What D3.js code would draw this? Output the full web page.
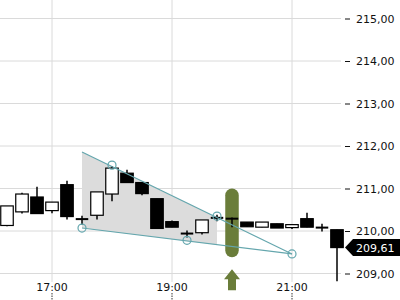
<!DOCTYPE html>
<html>
<head>
<meta charset="utf-8">
<script src="https://cdn.jsdelivr.net/npm/d3@7"></script>
<style>
  body { margin: 0; background: #fff; }
  text { font-family: "DejaVu Sans", sans-serif; }
</style>
</head>
<body>
<div id="chart"></div>
<script>
// 15 minute candles
var times = ["16:15","16:30","16:45","17:00","17:15","17:30","17:45","18:00","18:15","18:30","18:45","19:00",
             "19:15","19:30","19:45","20:00","20:15","20:30","20:45","21:00","21:15","21:30","21:45"]
var opens  = [210.13,210.45,210.80,210.48,211.09,210.28,210.37,210.87,211.36,211.14,210.76,210.22,
              209.94,209.96,210.31,210.29,210.21,210.09,210.17,210.08,210.29,210.08,210.03]
var highs  = [210.59,210.90,211.04,210.68,211.18,210.36,210.92,211.53,211.44,211.14,210.76,210.25,
              210.01,210.26,210.38,210.32,210.21,210.21,210.17,210.15,210.43,210.17,210.03]
var lows   = [210.11,210.41,210.40,210.42,210.27,210.15,210.27,210.70,211.14,210.84,210.06,210.09,
              209.85,209.92,210.23,210.09,210.10,210.09,210.07,210.05,210.09,209.99,208.82]
var closes = [210.59,210.87,210.41,210.68,210.34,210.28,210.92,211.48,211.14,210.88,210.06,210.09,
              209.94,210.26,210.31,210.29,210.10,210.21,210.07,210.15,210.09,210.08,209.61]

var yTicks = [209,210,211,212,213,214,215]
var xTicks = ["17:00","19:00","21:00"]

// triangle pattern
var upperTimes  = ["17:30","21:00"]
var upperPrices = [211.86,209.46]
var lowerTimes  = ["17:30","21:00"]
var lowerPrices = [210.07,209.46]
var shadeEnd = "19:45"
var pivotTimes  = ["17:30","18:00","19:15","19:45","21:00"]
var pivotPrices = [210.07,211.55,209.78,210.35,209.46]

// signal
var signalTime = "20:00"
var signalHigh = 211.0
var signalLow = 209.38

var lastPrice = 209.61

const W = 400, H = 300
var teal = "#64a6ad", olive = "#6a7d3a"

function t(s) {
    var p = s.split(":")
    return new Date(2020, 0, 1, +p[0], +p[1])
}

var x = d3.scaleTime()
    .domain([t("17:00"), t("19:00")])
    .range([52, 172])
var y = d3.scaleLinear()
    .domain([209, 215])
    .range([273.5, 18.5])

var svg = d3.select("#chart").append("svg")
    .attr("width", W).attr("height", H)

// grid
svg.append("g").selectAll("line")
    .data(yTicks).enter().append("line")
    .attr("x1", 0).attr("x2", 341)
    .attr("y1", d => y(d)).attr("y2", d => y(d))
    .style("stroke", "#dadada")
svg.append("g").selectAll("line")
    .data(xTicks).enter().append("line")
    .attr("x1", d => x(t(d))).attr("x2", d => x(t(d)))
    .attr("y1", 0).attr("y2", 282)
    .style("stroke", "#dadada")

// y axis
var yAxis = d3.axisRight(y)
    .tickValues(yTicks)
    .tickSize(5)
    .tickPadding(6)
    .tickFormat(d => d3.format(".2f")(d).replace(".", ","))
var ya = svg.append("g").attr("transform", "translate(345,0)").call(yAxis)
ya.select(".domain").remove()
ya.selectAll("text").style("font-size", "11px").style("fill", "#111")
ya.selectAll("line").style("stroke", "#111")

// x axis
svg.append("g").selectAll("text")
    .data(xTicks).enter().append("text")
    .attr("x", d => x(t(d))).attr("y", 291)
    .attr("text-anchor", "middle")
    .style("font-size", "11px").style("fill", "#111")
    .text(d => d)
svg.append("g").selectAll("line")
    .data(xTicks).enter().append("line")
    .attr("x1", d => x(t(d))).attr("x2", d => x(t(d)))
    .attr("y1", 293).attr("y2", 300)
    .style("stroke", "#333").style("stroke-dasharray", "1.5,1")

// shaded wedge
var upLine = d3.scaleTime().domain(upperTimes.map(t)).range(upperPrices)
var loLine = d3.scaleTime().domain(lowerTimes.map(t)).range(lowerPrices)
var t0 = t(upperTimes[0]), t1 = t(shadeEnd)
var poly = [[t0, upLine(t0)], [t1, upLine(t1)], [t1, loLine(t1)], [t0, loLine(t0)]]
svg.append("path")
    .attr("d", "M" + poly.map(p => x(p[0]) + "," + y(p[1])).join("L") + "Z")
    .style("fill", "#dcdcdc")

// signal pill
var pw = 13.5
svg.append("rect")
    .attr("x", x(t(signalTime)) - pw / 2)
    .attr("y", y(signalHigh))
    .attr("width", pw)
    .attr("height", y(signalLow) - y(signalHigh))
    .attr("rx", pw / 2).attr("ry", pw / 2)
    .style("fill", olive)

// arrow below
var ax = x(t(signalTime)), ay = y(signalLow) + 12
svg.append("path")
    .attr("d", "M" + ax + "," + ay + "L" + (ax + 8) + "," + (ay + 10) + "L" + (ax + 4) + "," + (ay + 10) +
               "L" + (ax + 4) + "," + (ay + 21) + "L" + (ax - 4) + "," + (ay + 21) + "L" + (ax - 4) + "," + (ay + 10) +
               "L" + (ax - 8) + "," + (ay + 10) + "Z")
    .style("fill", olive)

// candles
var bw = 12.5
var candles = times.map((d, i) => ({ t: t(d), o: opens[i], h: highs[i], l: lows[i], c: closes[i] }))
var cg = svg.append("g")
cg.selectAll("line.wick")
    .data(candles).enter().append("line")
    .attr("x1", d => x(d.t)).attr("x2", d => x(d.t))
    .attr("y1", d => y(d.h)).attr("y2", d => y(d.l))
    .style("stroke", "#000").style("stroke-width", "1.5px")
cg.selectAll("rect.body")
    .data(candles.filter(d => d.o !== d.c)).enter().append("rect")
    .attr("x", d => x(d.t) - bw / 2)
    .attr("y", d => y(Math.max(d.o, d.c)))
    .attr("width", bw)
    .attr("height", d => Math.abs(y(d.o) - y(d.c)))
    .style("fill", d => d.c > d.o ? "#fff" : "#000")
    .style("stroke", "#000").style("stroke-width", "1.2px")
cg.selectAll("rect.doji")
    .data(candles.filter(d => d.o === d.c)).enter().append("rect")
    .attr("x", d => x(d.t) - bw / 2)
    .attr("y", d => y(d.o) - 1)
    .attr("width", bw).attr("height", 2)
    .style("fill", "#000")

// pattern lines + pivots
var line = d3.line().x(d => x(d[0])).y(d => y(d[1]))
svg.append("path")
    .attr("d", line(upperTimes.map((d, i) => [t(d), upperPrices[i]])))
    .style("fill", "none").style("stroke", teal).style("stroke-width", "1.2px")
svg.append("path")
    .attr("d", line(lowerTimes.map((d, i) => [t(d), lowerPrices[i]])))
    .style("fill", "none").style("stroke", teal).style("stroke-width", "1.2px")
svg.append("g").selectAll("circle")
    .data(pivotTimes).enter().append("circle")
    .attr("cx", d => x(t(d)))
    .attr("cy", (d, i) => y(pivotPrices[i]))
    .attr("r", 4)
    .style("fill", "none").style("stroke", teal).style("stroke-width", "1.2px")

// last price tag
var ly = y(lastPrice)
svg.append("path")
    .attr("d", "M345," + ly + "L353," + (ly - 8.5) + "L400," + (ly - 8.5) + "L400," + (ly + 8.5) + "L353," + (ly + 8.5) + "Z")
    .style("fill", "#000")
svg.append("text")
    .attr("x", 356).attr("y", ly + 4)
    .style("font-size", "11px").style("fill", "#fff")
    .text(d3.format(".2f")(lastPrice).replace(".", ","))
</script>
</body>
</html>
